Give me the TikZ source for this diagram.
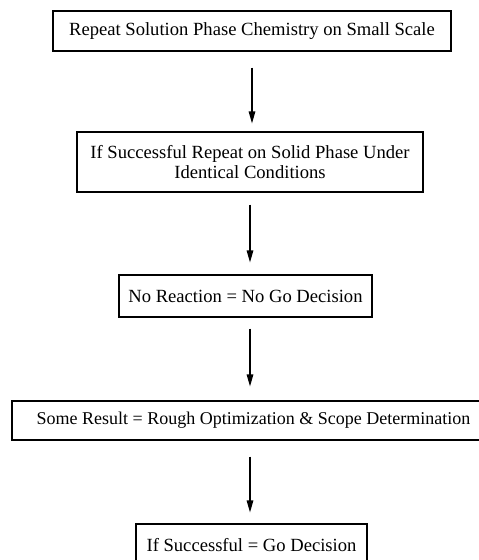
\documentclass[tikz,border=0pt]{standalone}
\usepackage{fontspec}
\setmainfont{Liberation Serif}
\usetikzlibrary{arrows.meta}
\begin{document}
\begin{tikzpicture}[x=1pt,y=-1pt,
  box/.style={draw=black, line width=1.1pt, inner sep=0pt, align=center,
    font=\fontsize{18.6}{19.5}\selectfont},
  arr/.style={line width=1.2pt, -{Triangle[length=12pt,width=6.5pt]}}]
\useasboundingbox (0,0) rectangle (479,560);
\node[box, minimum width=398pt, minimum height=40pt] (b1) at (252,31)
  {Repeat Solution Phase Chemistry on Small Scale};
\node[box, minimum width=346pt, minimum height=60pt] (b2) at (250,162)
  {If Successful Repeat on Solid Phase Under\\Identical Conditions};
\node[box, minimum width=253pt, minimum height=42pt] (b3) at (245.5,296)
  {No Reaction = No Go Decision};
\node[box, minimum width=483pt, minimum height=39pt, font=\fontsize{18}{19.5}\selectfont] (b4) at (253.5,420.5)
  {Some Result = Rough Optimization \& Scope Determination};
\node[box, minimum width=231pt, minimum height=42pt] (b5) at (251.5,545)
  {If Successful = Go Decision};
\draw[arr] ([yshift=-16pt]b1.south) -- ([yshift=8pt]b1.south |- b2.north);
\draw[arr] ([yshift=-12pt]b2.south) -- ([yshift=12pt]b2.south |- b3.north);
\draw[arr] ([yshift=-11pt,xshift=4.5pt]b3.south) -- ([yshift=14pt,xshift=4.5pt]b3.south |- b4.north);
\draw[arr] ([yshift=-16pt,xshift=-3.5pt]b4.south) -- ([yshift=11pt,xshift=-3.5pt]b4.south |- b5.north);
\end{tikzpicture}
\end{document}
